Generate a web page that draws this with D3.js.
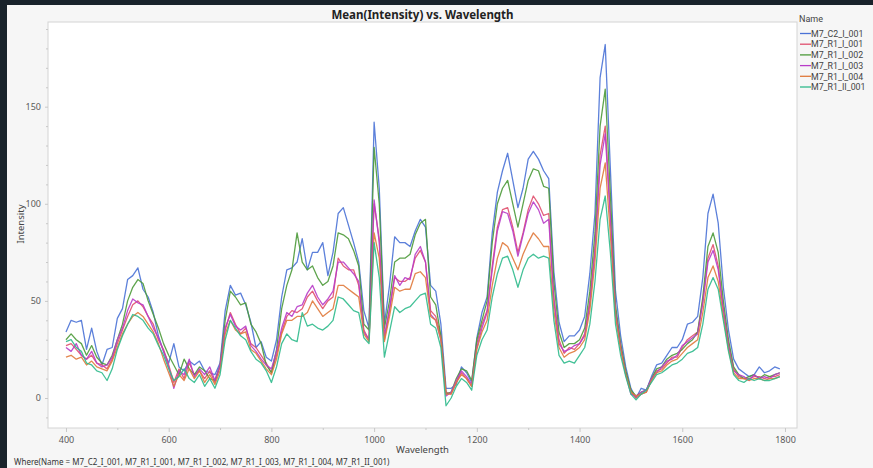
<!DOCTYPE html>
<html>
<head>
<meta charset="utf-8">
<script src="https://cdn.jsdelivr.net/npm/d3@7"></script>
<style>
  html, body { margin: 0; padding: 0; background: #19232b; }
  svg { display: block; }
  text { font-family: "Noto Sans", "Open Sans", sans-serif; }
  .legend text { font-family: Roboto, "Noto Sans", sans-serif; }
</style>
</head>
<body>
<svg id="chart" width="873" height="468"></svg>
<script>
// Wavelength grid (nm)
const wavelengths = [
  400,410,420,430,440,450,460,470,480,490,500,510,520,530,540,550,560,570,580,590,
  600,610,620,630,640,650,660,670,680,690,700,710,720,730,740,750,760,770,780,790,
  800,810,820,830,840,850,860,870,880,890,900,910,920,930,940,950,960,970,980,990,
  1000,1010,1020,1030,1040,1050,1060,1070,1080,1090,1100,1110,1120,1130,1140,1150,1160,1170,1180,1190,
  1200,1210,1220,1230,1240,1250,1260,1270,1280,1290,1300,1310,1320,1330,1340,1350,1360,1370,1380,1390,
  1400,1410,1420,1430,1440,1450,1460,1470,1480,1490,1500,1510,1520,1530,1540,1550,1560,1570,1580,1590,
  1600,1610,1620,1630,1640,1650,1660,1670,1680,1690,1700,1710,1720,1730,1740,1750,1760,1770,1780,1790
];

const seriesNames = ["M7_C2_I_001", "M7_R1_I_001", "M7_R1_I_002", "M7_R1_I_003", "M7_R1_I_004", "M7_R1_II_001"];
const seriesColors = ["#4a72d6", "#e0506e", "#4c9a3a", "#b83cc8", "#e07a3c", "#2fba8c"];

// Mean intensity per sample
const m7_C2_I_001 = [
  34,40,39,40,25,36,24,17,25,26,41,46,61,63,67,56,52,44,32,24,
  18,28,16,14,19,17,19,14,13,12,18,45,58,53,54,48,39,26,29,21,
  19,30,52,66,67,70,82,66,75,75,80,63,75,95,98,89,80,70,45,36,
  142,108,38,58,83,80,80,78,86,92,88,58,55,38,5,5,7,16,13,8,
  31,44,52,85,106,117,126,112,98,108,123,127,123,117,113,65,39,29,32,32,
  35,42,64,95,165,182,118,55,32,16,5,0,5,4,11,17,18,22,26,26,
  30,38,39,42,62,95,105,90,57,35,20,15,13,11,12,16,13,14,16,15
];
const m7_R1_I_001 = [
  27,28,25,22,20,22,18,17,15,20,28,35,42,48,50,47,42,38,30,25,
  17,8,15,10,18,12,14,10,14,8,16,35,44,38,33,36,28,26,22,18,
  13,22,34,42,45,44,46,52,55,50,46,50,52,72,68,66,66,58,35,30,
  100,82,30,45,62,60,60,62,72,76,70,45,42,32,3,2,8,13,10,6,
  28,38,45,68,88,97,98,88,75,85,97,104,100,94,95,52,30,23,26,25,
  28,33,50,78,125,140,95,45,27,13,3,0,2,3,9,14,15,18,21,21,
  26,30,32,34,50,72,79,68,46,28,15,11,10,10,11,11,10,11,11,12
];
const m7_R1_I_002 = [
  30,33,30,28,22,27,21,18,17,22,30,38,50,57,61,59,50,43,36,28,
  22,17,12,20,15,12,16,14,10,9,17,40,55,52,48,49,38,34,28,17,
  13,25,46,58,66,85,70,66,68,62,58,60,68,85,84,82,76,68,38,35,
  129,100,36,50,70,72,72,74,84,90,92,52,48,32,2,3,10,15,14,9,
  30,40,50,80,100,108,112,100,88,100,112,118,117,109,108,60,34,26,28,28,
  30,36,55,85,140,159,105,48,28,14,4,1,3,4,10,15,16,20,22,23,
  25,28,30,34,52,78,85,75,50,30,16,12,10,11,12,10,12,11,12,13
];
const m7_R1_I_003 = [
  26,24,28,22,20,24,18,16,17,21,30,36,45,51,49,48,42,36,31,24,
  16,5,14,12,20,11,15,12,16,9,17,36,43,37,35,37,27,24,20,17,
  15,24,36,44,42,47,48,54,58,52,48,51,55,70,70,67,64,60,34,30,
  102,80,32,46,63,58,62,61,74,78,70,43,40,30,1,3,9,14,11,7,
  26,36,44,66,86,96,95,86,73,84,95,101,97,90,92,50,28,24,25,27,
  28,32,48,75,120,136,92,44,26,12,2,1,3,4,10,13,16,19,20,22,
  27,29,31,33,49,70,76,66,45,27,14,12,11,9,12,10,11,10,12,13
];
const m7_R1_I_004 = [
  21,22,20,21,17,19,16,15,14,19,26,33,38,42,44,42,38,34,28,20,
  13,6,12,9,15,10,14,8,12,7,14,33,40,35,33,34,25,23,19,15,
  12,20,33,40,40,42,42,44,50,46,42,44,46,58,58,56,54,52,33,29,
  85,72,29,42,57,55,56,56,64,65,62,42,40,30,2,2,8,12,10,6,
  25,34,40,58,72,80,78,72,66,74,80,85,82,78,78,45,26,21,23,24,
  26,30,45,70,108,121,84,42,25,12,3,1,2,3,9,13,14,17,19,20,
  23,26,28,30,44,62,68,60,42,25,13,10,10,9,10,10,9,10,10,11
];
const m7_R1_II_001 = [
  29,30,26,24,18,17,14,13,9,15,25,32,38,43,42,40,36,33,27,22,
  15,9,11,15,10,8,12,6,10,5,12,30,40,36,32,30,24,20,18,14,
  8,16,28,33,30,29,44,37,38,36,35,37,40,52,51,48,45,44,31,28,
  80,62,21,34,47,44,46,47,50,53,54,38,36,26,-4,0,6,10,8,4,
  22,30,35,52,64,72,73,66,57,66,72,74,72,73,72,40,22,18,19,18,
  22,26,38,60,92,104,75,38,22,11,2,-1,2,4,8,12,13,15,17,18,
  20,23,24,26,38,56,62,56,40,24,12,9,8,10,9,10,9,9,10,11
];

const seriesValues = [m7_C2_I_001, m7_R1_I_001, m7_R1_I_002, m7_R1_I_003, m7_R1_I_004, m7_R1_II_001];

const xMajorTicks = [400, 600, 800, 1000, 1200, 1400, 1600, 1800];
const xMinorTicks = [500, 700, 900, 1100, 1300, 1500, 1700];
const yMajorTicks = [0, 50, 100, 150];
const yMinorTicks = [-10, 10, 20, 30, 40, 60, 70, 80, 90, 110, 120, 130, 140, 160, 170, 180, 190];

const svg = d3.select("#chart");
const W = 873, H = 468;

// Panel background inside the dark window border
svg.append("rect").attr("x", 7).attr("y", 5).attr("width", W - 7).attr("height", H - 5).attr("fill", "#f6f6f6");

const plot = { left: 48, top: 22, right: 797, bottom: 428 };

const x = d3.scaleLinear().domain([365, 1823.4]).range([plot.left, plot.right]);
const y = d3.scaleLinear().domain([-15.45, 193.6]).range([plot.bottom, plot.top]);

svg.append("rect")
  .attr("x", plot.left).attr("y", plot.top)
  .attr("width", plot.right - plot.left).attr("height", plot.bottom - plot.top)
  .attr("fill", "#ffffff").attr("stroke", "#d4d4d4").attr("stroke-width", 1);

// Axes
const axisColor = "#c8c8c8";
const labelColor = "#5a5a5a";

const xAxis = svg.append("g").attr("transform", `translate(0,${plot.bottom})`)
  .call(d3.axisBottom(x).tickValues(xMajorTicks).tickSize(4).tickPadding(5).tickFormat(d3.format("d")));
const xMinor = svg.append("g").attr("transform", `translate(0,${plot.bottom})`)
  .call(d3.axisBottom(x).tickValues(xMinorTicks).tickSize(2).tickFormat(""));

const yAxis = svg.append("g").attr("transform", `translate(${plot.left},0)`)
  .call(d3.axisLeft(y).tickValues(yMajorTicks).tickSize(3).tickPadding(4).tickFormat(d3.format("d")));
const yMinor = svg.append("g").attr("transform", `translate(${plot.left},0)`)
  .call(d3.axisLeft(y).tickValues(yMinorTicks).tickSize(2).tickFormat(""));

[xAxis, xMinor, yAxis, yMinor].forEach(g => {
  g.select(".domain").remove();
  g.selectAll(".tick line").attr("stroke", axisColor);
  g.selectAll(".tick text").attr("fill", labelColor).attr("font-size", 9)
    .style("font-family", "\"Noto Sans\", sans-serif");
});

// Series lines
const line = d3.line()
  .x((d, i) => x(wavelengths[i]))
  .y(d => y(d));

svg.append("clipPath").attr("id", "plotClip")
  .append("rect").attr("x", plot.left + 0.5).attr("y", plot.top + 0.5)
  .attr("width", plot.right - plot.left - 1).attr("height", plot.bottom - plot.top - 1);

const linesG = svg.append("g").attr("clip-path", "url(#plotClip)");
seriesValues.forEach((vals, k) => {
  linesG.append("path")
    .datum(vals)
    .attr("d", line)
    .attr("fill", "none")
    .attr("stroke", seriesColors[k])
    .attr("stroke-width", 1.3)
    .attr("stroke-opacity", 0.9)
    .attr("stroke-linejoin", "round");
});

// Title
svg.append("text")
  .attr("x", (plot.left + plot.right) / 2).attr("y", 19)
  .attr("text-anchor", "middle").attr("font-size", 11.5).attr("font-weight", "bold")
  .attr("fill", "#222").text("Mean(Intensity) vs. Wavelength");

// Axis titles
svg.append("text")
  .attr("x", (plot.left + plot.right) / 2).attr("y", 453)
  .attr("text-anchor", "middle").attr("font-size", 9.5).attr("fill", "#444")
  .text("Wavelength");

svg.append("text")
  .attr("transform", "translate(24,224) rotate(-90)")
  .attr("text-anchor", "middle").attr("font-size", 9.5).attr("fill", "#444")
  .text("Intensity");

// Legend
const legend = svg.append("g").attr("class", "legend").attr("transform", "translate(799,0)");
legend.append("text").attr("x", 0).attr("y", 21.5).attr("font-size", 9).attr("fill", "#444").text("Name");
seriesNames.forEach((name, k) => {
  const cy = 33.5 + k * 10.7;
  legend.append("line").attr("x1", 1).attr("x2", 12).attr("y1", cy).attr("y2", cy)
    .attr("stroke", seriesColors[k]).attr("stroke-width", 1.3);
  legend.append("text").attr("x", 12).attr("y", cy + 3.2)
    .attr("font-size", 8.8).attr("fill", "#444").text(name);
});

// Filter note
svg.append("text")
  .attr("x", 14).attr("y", 465)
  .attr("font-size", 8).attr("fill", "#333")
  .text("Where(Name = " + seriesNames.join(", ") + ")");
</script>
</body>
</html>
